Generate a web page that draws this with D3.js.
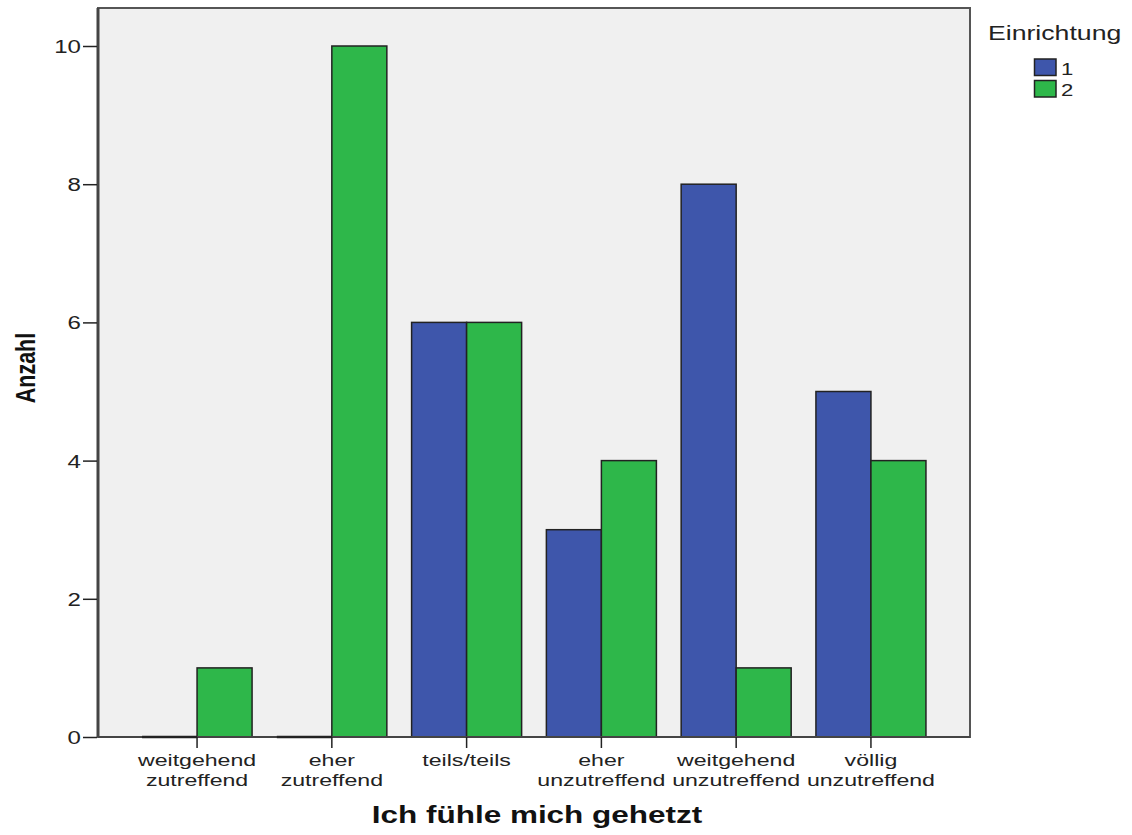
<!DOCTYPE html>
<html><head><meta charset="utf-8">
<script src="https://cdn.jsdelivr.net/npm/d3@7"></script>
<style>body{margin:0;background:#fff}svg{display:block}text{font-family:Arial,"Liberation Sans",sans-serif}</style>
</head><body><svg id="c" width="1132" height="835"></svg>
<script>
const categories = [["weitgehend","zutreffend"],["eher","zutreffend"],["teils/teils"],["eher","unzutreffend"],["weitgehend","unzutreffend"],["völlig","unzutreffend"]];
const seriesNames = ["1","2"];
const series1 = [0,0,6,3,8,5];
const series2 = [1,10,6,4,1,4];
const yTicks = [0,2,4,6,8,10];
const colors = ["#3E56AB","#2EB74A"];

const SX = 1.3; // horizontal stretch of all text, as in the reference
const svg = d3.select("#c");
const L=98, R=970, T=8, B=737;
const catKeys = categories.map(c=>c.join(" "));
const x = d3.scaleBand().domain(catKeys).range([L,R]).paddingInner(0).paddingOuter(0.235);
const xs = d3.scaleBand().domain(seriesNames).range([0,x.bandwidth()]).paddingInner(0).paddingOuter(0.225);
const y = d3.scaleLinear().domain([0,10]).range([B,46]);

function sText(parent, px, py, str, size, opt={}){
  const g = parent.append("g").attr("transform",`translate(${px},${py}) scale(${opt.sx||SX},1)`);
  return g.append("text").attr("x",0).attr("y",0).attr("font-size",size)
    .attr("text-anchor",opt.anchor||"start").attr("font-weight",opt.weight||"normal")
    .attr("fill",opt.fill||"#222").text(str);
}

svg.append("rect").attr("x",L).attr("y",T).attr("width",R-L).attr("height",B-T).attr("fill","#F0F0F0");

const data = [];
catKeys.forEach((k,i)=>{data.push({k,s:"1",v:series1[i]});data.push({k,s:"2",v:series2[i]});});
svg.append("g").selectAll("rect").data(data.filter(d=>d.v>0)).join("rect")
  .attr("x",d=>x(d.k)+xs(d.s)).attr("width",xs.bandwidth())
  .attr("y",d=>y(d.v)).attr("height",d=>B-y(d.v))
  .attr("fill",d=>colors[seriesNames.indexOf(d.s)])
  .attr("stroke","#222").attr("stroke-width",1.5);

// frame
svg.append("rect").attr("x",L).attr("y",T).attr("width",R-L).attr("height",B-T)
  .attr("fill","none").attr("stroke","#555").attr("stroke-width",2);
svg.append("line").attr("x1",L).attr("x2",R).attr("y1",B).attr("y2",B).attr("stroke","#444").attr("stroke-width",2);
svg.append("line").attr("x1",L).attr("x2",L).attr("y1",T).attr("y2",B).attr("stroke","#444").attr("stroke-width",3);
// zero-height bars drawn as dark lines on the baseline
svg.append("g").selectAll("line").data(data.filter(d=>d.v===0)).join("line")
  .attr("x1",d=>x(d.k)+xs(d.s)).attr("x2",d=>x(d.k)+xs(d.s)+xs.bandwidth())
  .attr("y1",y(0)).attr("y2",y(0)).attr("stroke","#222").attr("stroke-width",2.5);

// y axis
const ya = svg.append("g").attr("transform",`translate(${L-1},0)`)
  .call(d3.axisLeft(y).tickValues(yTicks).tickSize(14).tickPadding(2).tickFormat(d3.format("d")));
ya.select(".domain").remove();
ya.selectAll(".tick line").attr("stroke","#222").attr("stroke-width",1.5);
ya.selectAll(".tick text").attr("x",0).attr("dy","0.35em")
  .attr("transform",`translate(-16,0) scale(${SX},1)`)
  .attr("font-size",18.5).attr("fill","#222").attr("font-family","Arial,'Liberation Sans',sans-serif");

// x axis
const xa = svg.append("g").attr("transform",`translate(0,${B})`)
  .call(d3.axisBottom(x).tickSize(11).tickFormat(""));
xa.select(".domain").remove();
xa.selectAll(".tick line").attr("stroke","#222").attr("stroke-width",1.5);
const xl = svg.append("g");
categories.forEach((c,i)=>{
  c.forEach((line,j)=>sText(xl, x(catKeys[i])+x.bandwidth()/2, 766+j*19.5, line, 17, {anchor:"middle", sx:1.36}));
});

sText(svg, 537, 823, "Ich fühle mich gehetzt", 23.5, {anchor:"middle", weight:"bold", fill:"#111", sx:1.34});
svg.append("g").attr("transform",`translate(35,368) rotate(-90) scale(1,${SX})`)
  .append("text").attr("text-anchor","middle").attr("font-size",21.5).attr("font-weight","bold")
  .attr("fill","#111").text("Anzahl");

// legend
sText(svg, 988, 39.5, "Einrichtung", 20.5, {sx:1.3});
seriesNames.forEach((s,i)=>{
  svg.append("rect").attr("x",1034.5).attr("y",59+i*21.5).attr("width",21.5).attr("height",16.5)
    .attr("fill",colors[i]).attr("stroke","#222").attr("stroke-width",1.5);
  sText(svg, 1061, 74.5+i*21.5, s, 17);
});
</script></body></html>
